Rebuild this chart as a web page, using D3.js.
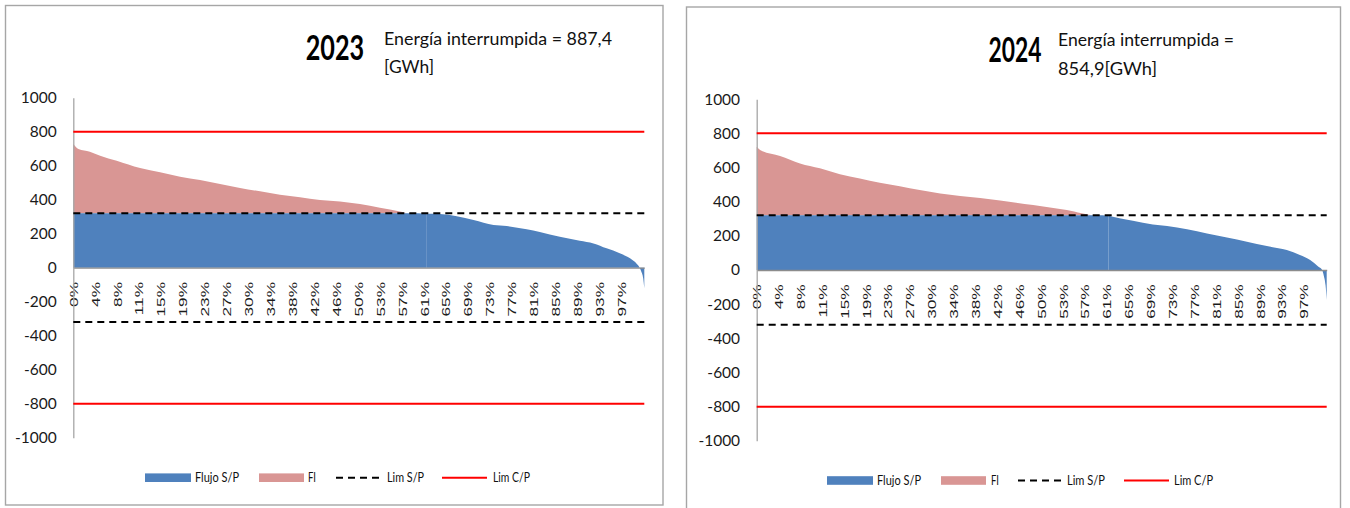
<!DOCTYPE html>
<html>
<head>
<meta charset="utf-8">
<script src="https://cdn.jsdelivr.net/npm/d3@7"></script>
<style>
  html, body { margin: 0; padding: 0; background: #fff; }
  svg { display: block; }
</style>
</head>
<body>
<svg id="chart" width="1350" height="508"></svg>
<script>
// ---- Data -------------------------------------------------------------
const years = ["2023", "2024"];
const energyLines2023 = ["Energía interrumpida = 887,4", "[GWh]"];
const energyLines2024 = ["Energía interrumpida =", "854,9[GWh]"];

// Duration curve: share of time (%) and flow (MW)
const pct2023  = [0, 0.9, 2.9, 4.7, 7.6, 11.7, 15.2, 18.7, 22.2, 25.7, 29.2, 32.7, 36.2, 39.7, 43.2, 46.7, 50.2, 53.7, 57.2, 58.9, 61.8, 64.2, 70.1, 73.6, 75.9, 79.4, 81.7, 85.2, 88.7, 91.1, 93.4, 95.7, 97.5, 98.7, 99.2, 99.5, 99.8, 100];
const flow2023 = [728, 698, 682, 659, 629, 586, 561, 535, 516, 492, 469, 449, 429, 414, 398, 390, 375, 353, 331, 320, 318, 316, 281, 251, 245, 226, 210, 182, 159, 143, 114, 85, 55, 22, 0, -25, -60, -121];

const pct2024  = [0, 0.6, 4.1, 7.6, 11.1, 14.6, 18.1, 21.6, 25.1, 28.6, 32.2, 35.7, 39.2, 42.7, 48.5, 54.4, 59.6, 61.7, 66.0, 69.5, 72.0, 75.5, 79.0, 82.5, 86.0, 89.5, 93.0, 95.3, 97.1, 98.5, 99.2, 99.5, 99.8, 100];
const flow2024 = [721, 702, 667, 624, 595, 561, 536, 511, 491, 468, 448, 433, 421, 407, 380, 351, 320, 318, 288, 267, 257, 238, 214, 191, 166, 140, 117, 88, 58, 20, 0, -35, -90, -176];

const xTickLabels = ["0%", "4%", "8%", "11%", "15%", "19%", "23%", "27%", "30%", "34%", "38%", "42%", "46%", "50%", "53%", "57%", "61%", "65%", "69%", "73%", "77%", "81%", "85%", "89%", "93%", "97%"];
const yTicks = [1000, 800, 600, 400, 200, 0, -200, -400, -600, -800, -1000];

const limSP = 320;   // Lim S/P (MW)
const limCP = 800;   // Lim C/P (MW)
const legendNames = ["Flujo S/P", "FI", "Lim S/P", "Lim C/P"];

// ---- Styling -----------------------------------------------------------
const colors = { flujo: "#4F81BD", fi: "#D99694", sp: "#000000", cp: "#FF0000" };
const tickStep = 3.84;          // spacing of category labels, in % of time
const FONT = "Lato, 'Open Sans', sans-serif";
const FONT_X = "'Liberation Sans', Arial, sans-serif";

const panels = [
  {
    year: years[0], lines: energyLines2023, pct: pct2023, flow: flow2023,
    frame: { x: 5.5, y: 5.5, w: 657.5, h: 499.5 },
    plot: { left: 73.3, right: 644.3, top: 97.7, bottom: 437.7 },
    yearPos: { x: 305.7, y: 60, w: 58.5 },
    textPos: { x: 384, y1: 45, w1: 228, y2: 73, w2: 50 },
    legend: { y: 477.7, items: [[145, 195, 44], [259, 308, 8], [336, 387, 37], [442, 493, 37]] }
  },
  {
    year: years[1], lines: energyLines2024, pct: pct2024, flow: flow2024,
    frame: { x: 686.5, y: 7, w: 654, h: 510 },
    plot: { left: 756.7, right: 1326.7, top: 99.2, bottom: 440.8 },
    yearPos: { x: 988.5, y: 61.5, w: 53 },
    textPos: { x: 1058, y1: 45.5, w1: 176, y2: 74.5, w2: 99 },
    legend: { y: 480.5, items: [[827, 877, 44], [941, 991, 8], [1018, 1067, 38], [1124, 1174, 39]] }
  }
];

const svg = d3.select("#chart");

function drawPanel(cfg) {
  const g = svg.append("g");
  const f = cfg.frame, p = cfg.plot;

  // outer frame
  g.append("rect")
    .attr("x", f.x).attr("y", f.y).attr("width", f.w).attr("height", f.h)
    .attr("fill", "#fff").attr("stroke", "#a6a6a6").attr("stroke-width", 1.4);

  const x = d3.scaleLinear().domain([0, 100]).range([p.left, p.right]);
  const y = d3.scaleLinear().domain([-1000, 1000]).range([p.bottom, p.top]);

  const pts = cfg.pct.map((d, i) => ({ p: d, v: cfg.flow[i] }));

  // FI: portion of flow above the S/P limit
  g.append("path").datum(pts)
    .attr("fill", colors.fi)
    .attr("d", d3.area().curve(d3.curveMonotoneX)
      .x(d => x(d.p))
      .y0(y(limSP))
      .y1(d => y(Math.max(d.v, limSP))));

  // Flujo S/P: flow capped at the S/P limit, drawn in two pieces
  // (at the first point below the limit) like the source workbook
  const split = pts.findIndex(d => d.v < limSP);
  const blueArea = d3.area().curve(d3.curveMonotoneX)
    .x(d => x(d.p))
    .y0(y(0))
    .y1(d => y(Math.min(d.v, limSP)));
  [pts.slice(0, split + 1), pts.slice(split)].forEach(seg => {
    g.append("path").datum(seg).attr("fill", colors.flujo).attr("d", blueArea);
  });

  // x axis (category percentages) at zero
  const xAxis = d3.axisBottom(x)
    .tickValues(xTickLabels.map((_, i) => i * tickStep))
    .tickFormat((d, i) => xTickLabels[i])
    .tickSize(0).tickSizeOuter(0);
  const gx = g.append("g")
    .attr("transform", `translate(0,${y(0)})`)
    .call(xAxis);
  gx.select(".domain").attr("stroke", "#8c8c8c").attr("stroke-width", 1.3);
  gx.selectAll(".tick text")
    .attr("x", 0).attr("y", 0).attr("dy", "0.36em")
    .attr("text-anchor", "end")
    .attr("transform", "translate(0,14.3) rotate(-90) scale(1.6,1)")
    .attr("font-family", FONT_X).attr("font-size", 10.8).attr("fill", "#1a1a1a");

  // y axis
  const yAxis = d3.axisLeft(y).tickValues(yTicks).tickFormat(d => String(d))
    .tickSize(0).tickPadding(16.6).tickSizeOuter(0);
  const gy = g.append("g")
    .attr("transform", `translate(${p.left},0)`)
    .call(yAxis);
  gy.select(".domain").attr("stroke", "#a6a6a6").attr("stroke-width", 1.3);
  gy.selectAll(".tick text")
    .attr("font-family", FONT).attr("font-size", 15.5).attr("fill", "#1a1a1a");

  // limit lines
  [limSP, -limSP].forEach(v => {
    g.append("line")
      .attr("x1", x(0)).attr("x2", x(100)).attr("y1", y(v)).attr("y2", y(v))
      .attr("stroke", colors.sp).attr("stroke-width", 2).attr("stroke-dasharray", "7,5");
  });
  [limCP, -limCP].forEach(v => {
    g.append("line")
      .attr("x1", x(0)).attr("x2", x(100)).attr("y1", y(v)).attr("y2", y(v))
      .attr("stroke", colors.cp).attr("stroke-width", 2);
  });

  // titles
  g.append("text")
    .attr("x", cfg.yearPos.x).attr("y", cfg.yearPos.y)
    .attr("textLength", cfg.yearPos.w).attr("lengthAdjust", "spacingAndGlyphs")
    .attr("font-family", FONT).attr("font-weight", "bold").attr("font-size", 35)
    .text(cfg.year);
  const t = cfg.textPos;
  g.append("text")
    .attr("x", t.x).attr("y", t.y1)
    .attr("textLength", t.w1).attr("lengthAdjust", "spacingAndGlyphs")
    .attr("font-family", FONT).attr("font-size", 18).attr("fill", "#111")
    .text(cfg.lines[0]);
  g.append("text")
    .attr("x", t.x).attr("y", t.y2)
    .attr("textLength", t.w2).attr("lengthAdjust", "spacingAndGlyphs")
    .attr("font-family", FONT).attr("font-size", 18).attr("fill", "#111")
    .text(cfg.lines[1]);

  // legend
  const L = cfg.legend, ly = L.y;
  const it = L.items;
  g.append("rect").attr("x", it[0][0]).attr("y", ly - 4.3).attr("width", 46).attr("height", 8.6).attr("fill", colors.flujo);
  g.append("rect").attr("x", it[1][0]).attr("y", ly - 4.3).attr("width", 45).attr("height", 8.6).attr("fill", colors.fi);
  g.append("line").attr("x1", it[2][0]).attr("x2", it[2][0] + 43).attr("y1", ly).attr("y2", ly)
    .attr("stroke", colors.sp).attr("stroke-width", 2).attr("stroke-dasharray", "7,5");
  g.append("line").attr("x1", it[3][0]).attr("x2", it[3][0] + 45).attr("y1", ly).attr("y2", ly)
    .attr("stroke", colors.cp).attr("stroke-width", 2);
  legendNames.forEach((name, i) => {
    g.append("text")
      .attr("x", it[i][1]).attr("y", ly).attr("dy", "0.35em")
      .attr("textLength", it[i][2]).attr("lengthAdjust", "spacingAndGlyphs")
      .attr("font-family", FONT).attr("font-size", 12.5).attr("fill", "#111")
      .text(name);
  });
}

panels.forEach(drawPanel);
</script>
</body>
</html>
